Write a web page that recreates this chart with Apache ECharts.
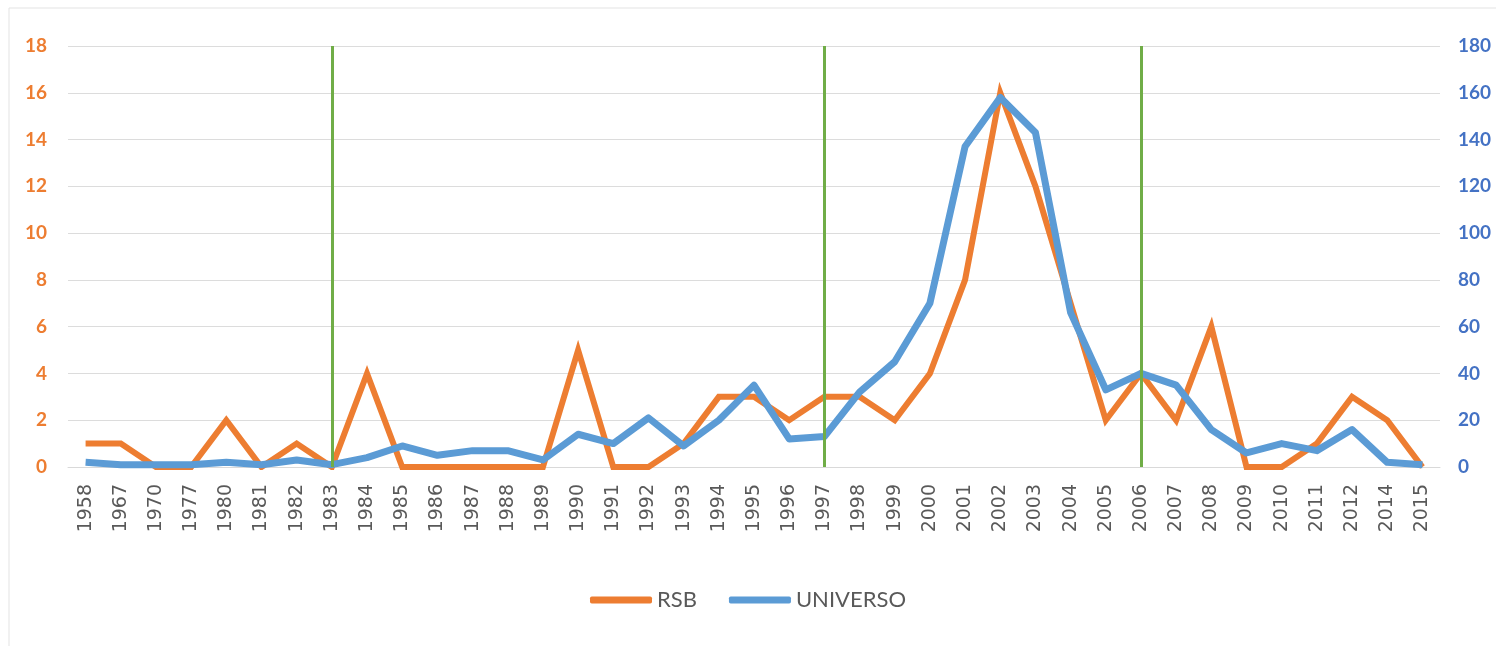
<!DOCTYPE html>
<html><head><meta charset="utf-8">
<script src="https://cdn.jsdelivr.net/npm/echarts@6/dist/echarts.min.js"></script>
<style>html,body{margin:0;padding:0;background:#fff}#c{width:1496px;height:646px}</style>
</head><body><div id="c"></div>
<script>
const years = ['1958','1967','1970','1977','1980','1981','1982','1983','1984','1985','1986','1987','1988','1989','1990','1991','1992','1993','1994','1995','1996','1997','1998','1999','2000','2001','2002','2003','2004','2005','2006','2007','2008','2009','2010','2011','2012','2014','2015'];
const rsb = [1,1,0,0,2,0,1,0,4,0,0,0,0,0,5,0,0,1,3,3,2,3,3,2,4,8,16,12,7,2,4,2,6,0,0,1,3,2,0];
const universo = [2,1,1,1,2,1,3,1,4,9,5,7,7,3,14,10,21,9,20,35,12,13,32,45,70,137,158,143,66,33,40,35,16,6,10,7,16,2,1];
const markerYears = ['1983','1997','2006'];
const leftTicks = {min:0, max:18, interval:2};
const rightTicks = {min:0, max:180, interval:20};

const chart = echarts.init(document.getElementById('c'));
chart.setOption({
  animation:false,
  textStyle:{fontFamily:'Lato, "Open Sans", sans-serif'},
  graphic:[{type:'rect',shape:{x:9,y:8,width:1600,height:700},style:{fill:'none',stroke:'#e3e3e3',lineWidth:1},silent:true}],
  grid:{left:68,right:56,top:46,bottom:179},
  legend:{bottom:30,left:'center',itemWidth:62,itemHeight:7,itemGap:32,icon:'roundRect',
    textStyle:{color:'#595959',fontSize:22,fontFamily:'Lato, sans-serif'},
    data:[{name:'RSB',itemStyle:{color:'#ED7D31'}},{name:'UNIVERSO',itemStyle:{color:'#5B9BD5'}}]},
  xAxis:{type:'category',data:years,boundaryGap:true,
    axisLine:{show:true,lineStyle:{color:'#d9d9d9'}},axisTick:{show:false},
    axisLabel:{rotate:90,color:'#595959',fontSize:19,margin:17,interval:0,fontFamily:'"DejaVu Sans", sans-serif'}},
  yAxis:[
    {type:'value',min:leftTicks.min,max:leftTicks.max,interval:leftTicks.interval,
      axisLine:{show:false},axisTick:{show:false},
      splitLine:{lineStyle:{color:'#dcdcdc',width:1}},
      axisLabel:{color:'#ED7D31',fontSize:19,fontWeight:'bold',margin:21}},
    {type:'value',min:rightTicks.min,max:rightTicks.max,interval:rightTicks.interval,
      axisLine:{show:false},axisTick:{show:false},splitLine:{show:false},
      axisLabel:{color:'#4472C4',fontSize:19,fontWeight:'bold',margin:18}}
  ],
  series:[
    {name:'RSB',type:'line',data:rsb,yAxisIndex:0,symbol:'none',
      lineStyle:{color:'#ED7D31',width:6,join:'miter'},itemStyle:{color:'#ED7D31'},z:3,
      markLine:{silent:true,symbol:'none',label:{show:false},
        lineStyle:{color:'#70AD47',width:3,type:'solid'},
        data:markerYears.map(y=>({xAxis:y}))}},
    {name:'UNIVERSO',type:'line',data:universo,yAxisIndex:1,symbol:'none',
      lineStyle:{color:'#5B9BD5',width:7,join:'round'},itemStyle:{color:'#5B9BD5'},z:4}
  ]
});
</script></body></html>
